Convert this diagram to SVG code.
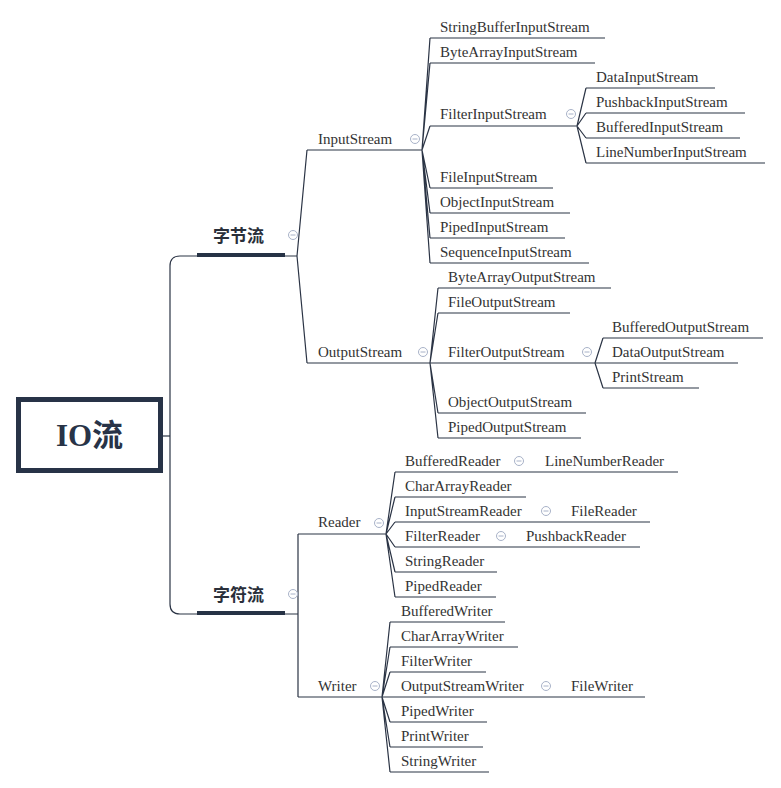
<svg xmlns="http://www.w3.org/2000/svg" width="781" height="788" viewBox="0 0 781 788">
<style>
.bg{fill:#ffffff}
.t{font-family:"Liberation Serif","Times New Roman",serif;font-size:15px;fill:#333333}
.cn{font-family:"Noto Sans CJK SC","Noto Sans CJK JP",sans-serif;font-size:17px;font-weight:bold;fill:#2a2f3a}
.ul{stroke:#2b3445;stroke-width:1.2;fill:none}
.bar{stroke:#263245;stroke-width:4;fill:none}
.cl{stroke:#2b3445;stroke-width:1.2;fill:none}
.cc{fill:#ffffff;stroke:#a8b2c8;stroke-width:1}
.cm{stroke:#a8b2c8;stroke-width:1}
</style>
<defs>
<g id="col"><circle class="cc" cx="0" cy="0" r="4.5"/><line class="cm" x1="-2.5" y1="0" x2="2.5" y2="0"/></g>
</defs>
<rect class="bg" x="0" y="0" width="781" height="788"/>

<g id="connectors">
<path class="cl" d="M163 436 H170"/>
<path class="cl" d="M197 256 H180 Q170 256 170 266 V604 Q170 614 180 614 H197"/>
<!-- 字节流 -->
<path class="cl" d="M285 256 H297 L307 150 M297 256 L307 363"/>
<!-- 字符流 -->
<path class="cl" d="M285 614 H298 V534 M298 614 V697"/>
<!-- InputStream fan -->
<path class="cl" d="M422 150 L430 38 M422 150 L430 63 M422 150 L430 126 M422 150 L430 188 M422 150 L430 213 M422 150 L430 238 M422 150 L430 263"/>
<!-- FilterInputStream fan -->
<path class="cl" d="M577 126 L586 88 M577 126 L586 113 M577 126 L586 138 M577 126 L586 163"/>
<!-- OutputStream fan -->
<path class="cl" d="M430 363 L438 288 M430 363 L438 313 M430 363 L438 413 M430 363 L438 438"/>
<!-- FilterOutputStream fan -->
<path class="cl" d="M595 363 L603 338 M595 363 L603 388"/>
<!-- Reader fan -->
<path class="cl" d="M386 534 L395 472 M386 534 L395 497 M386 534 L395 522 M386 534 L395 547 M386 534 L395 572 M386 534 L395 597"/>
<!-- Writer fan -->
<path class="cl" d="M382 697 L390 622 M382 697 L390 647 M382 697 L390 672 M382 697 L390 722 M382 697 L390 747 M382 697 L390 772"/>
</g>

<g id="root">
<rect x="18.5" y="399.5" width="142" height="71" fill="#ffffff" stroke="#283347" stroke-width="5"/>
<text x="89.5" y="446" text-anchor="middle" fill="#283347" font-size="31" font-weight="bold"><tspan font-family="Liberation Serif,serif">IO</tspan><tspan font-family="Noto Sans CJK SC,sans-serif">流</tspan></text>
</g>

<g id="n-bytestream">
<text class="cn" x="213" y="242">字节流</text>
<line class="bar" x1="197" y1="255" x2="285" y2="255"/>
<use href="#col" x="293" y="235"/>
</g>
<g id="n-charstream">
<text class="cn" x="213" y="601">字符流</text>
<line class="bar" x1="197" y1="613" x2="285" y2="613"/>
<use href="#col" x="293" y="594"/>
</g>

<g id="n-inputstream">
<text class="t" x="318" y="144">InputStream</text>
<line class="ul" x1="307" y1="150" x2="422" y2="150"/>
<use href="#col" x="415" y="139"/>
</g>
<g id="n-stringbufferinputstream"><text class="t" x="440" y="32">StringBufferInputStream</text><line class="ul" x1="430" y1="38" x2="605" y2="38"/></g>
<g id="n-bytearrayinputstream"><text class="t" x="440" y="57">ByteArrayInputStream</text><line class="ul" x1="430" y1="63" x2="595" y2="63"/></g>
<g id="n-filterinputstream"><text class="t" x="440" y="119">FilterInputStream</text><line class="ul" x1="430" y1="126" x2="577" y2="126"/><use href="#col" x="571" y="114"/></g>
<g id="n-datainputstream"><text class="t" x="596" y="82">DataInputStream</text><line class="ul" x1="586" y1="88" x2="715" y2="88"/></g>
<g id="n-pushbackinputstream"><text class="t" x="596" y="107">PushbackInputStream</text><line class="ul" x1="586" y1="113" x2="745" y2="113"/></g>
<g id="n-bufferedinputstream"><text class="t" x="596" y="132">BufferedInputStream</text><line class="ul" x1="586" y1="138" x2="740" y2="138"/></g>
<g id="n-linenumberinputstream"><text class="t" x="596" y="157">LineNumberInputStream</text><line class="ul" x1="586" y1="163" x2="765" y2="163"/></g>
<g id="n-fileinputstream"><text class="t" x="440" y="182">FileInputStream</text><line class="ul" x1="430" y1="188" x2="553" y2="188"/></g>
<g id="n-objectinputstream"><text class="t" x="440" y="207">ObjectInputStream</text><line class="ul" x1="430" y1="213" x2="570" y2="213"/></g>
<g id="n-pipedinputstream"><text class="t" x="440" y="232">PipedInputStream</text><line class="ul" x1="430" y1="238" x2="565" y2="238"/></g>
<g id="n-sequenceinputstream"><text class="t" x="440" y="257">SequenceInputStream</text><line class="ul" x1="430" y1="263" x2="589" y2="263"/></g>

<g id="n-outputstream">
<text class="t" x="318" y="357">OutputStream</text>
<line class="ul" x1="307" y1="363" x2="430" y2="363"/>
<use href="#col" x="423" y="352"/>
</g>
<g id="n-bytearrayoutputstream"><text class="t" x="448" y="282">ByteArrayOutputStream</text><line class="ul" x1="438" y1="288" x2="611" y2="288"/></g>
<g id="n-fileoutputstream"><text class="t" x="448" y="307">FileOutputStream</text><line class="ul" x1="438" y1="313" x2="570" y2="313"/></g>
<g id="n-filteroutputstream"><text class="t" x="448" y="357">FilterOutputStream</text><line class="ul" x1="430" y1="363" x2="595" y2="363"/><use href="#col" x="587" y="352"/></g>
<g id="n-bufferedoutputstream"><text class="t" x="612" y="332">BufferedOutputStream</text><line class="ul" x1="603" y1="338" x2="763" y2="338"/></g>
<g id="n-dataoutputstream"><text class="t" x="612" y="357">DataOutputStream</text><line class="ul" x1="595" y1="363" x2="738" y2="363"/></g>
<g id="n-printstream"><text class="t" x="612" y="382">PrintStream</text><line class="ul" x1="603" y1="388" x2="699" y2="388"/></g>
<g id="n-objectoutputstream"><text class="t" x="448" y="407">ObjectOutputStream</text><line class="ul" x1="438" y1="413" x2="586" y2="413"/></g>
<g id="n-pipedoutputstream"><text class="t" x="448" y="432">PipedOutputStream</text><line class="ul" x1="438" y1="438" x2="581" y2="438"/></g>

<g id="n-reader">
<text class="t" x="318" y="527">Reader</text>
<line class="ul" x1="298" y1="534" x2="386" y2="534"/>
<use href="#col" x="379" y="523"/>
</g>
<g id="n-bufferedreader"><text class="t" x="405" y="466">BufferedReader</text><line class="ul" x1="395" y1="472" x2="527" y2="472"/><use href="#col" x="519" y="461"/></g>
<g id="n-linenumberreader"><text class="t" x="545" y="466">LineNumberReader</text><line class="ul" x1="527" y1="472" x2="678" y2="472"/></g>
<g id="n-chararrayreader"><text class="t" x="405" y="491">CharArrayReader</text><line class="ul" x1="395" y1="497" x2="526" y2="497"/></g>
<g id="n-inputstreamreader"><text class="t" x="405" y="516">InputStreamReader</text><line class="ul" x1="395" y1="522" x2="553" y2="522"/><use href="#col" x="546" y="511"/></g>
<g id="n-filereader-r"><text class="t" x="571" y="516">FileReader</text><line class="ul" x1="553" y1="522" x2="650" y2="522"/></g>
<g id="n-filterreader"><text class="t" x="405" y="541">FilterReader</text><line class="ul" x1="395" y1="547" x2="508" y2="547"/><use href="#col" x="501" y="536"/></g>
<g id="n-pushbackreader"><text class="t" x="526" y="541">PushbackReader</text><line class="ul" x1="508" y1="547" x2="640" y2="547"/></g>
<g id="n-stringreader"><text class="t" x="405" y="566">StringReader</text><line class="ul" x1="395" y1="572" x2="497" y2="572"/></g>
<g id="n-pipedreader"><text class="t" x="405" y="591">PipedReader</text><line class="ul" x1="395" y1="597" x2="496" y2="597"/></g>

<g id="n-writer">
<text class="t" x="318" y="691">Writer</text>
<line class="ul" x1="298" y1="697" x2="382" y2="697"/>
<use href="#col" x="375" y="686"/>
</g>
<g id="n-bufferedwriter"><text class="t" x="401" y="616">BufferedWriter</text><line class="ul" x1="390" y1="622" x2="505" y2="622"/></g>
<g id="n-chararraywriter"><text class="t" x="401" y="641">CharArrayWriter</text><line class="ul" x1="390" y1="647" x2="518" y2="647"/></g>
<g id="n-filterwriter"><text class="t" x="401" y="666">FilterWriter</text><line class="ul" x1="390" y1="672" x2="486" y2="672"/></g>
<g id="n-outputstreamwriter"><text class="t" x="401" y="691">OutputStreamWriter</text><line class="ul" x1="382" y1="697" x2="553" y2="697"/><use href="#col" x="546" y="686"/></g>
<g id="n-filewriter"><text class="t" x="571" y="691">FileWriter</text><line class="ul" x1="553" y1="697" x2="645" y2="697"/></g>
<g id="n-pipedwriter"><text class="t" x="401" y="716">PipedWriter</text><line class="ul" x1="390" y1="722" x2="487" y2="722"/></g>
<g id="n-printwriter"><text class="t" x="401" y="741">PrintWriter</text><line class="ul" x1="390" y1="747" x2="483" y2="747"/></g>
<g id="n-stringwriter"><text class="t" x="401" y="766">StringWriter</text><line class="ul" x1="390" y1="772" x2="489" y2="772"/></g>
</svg>
